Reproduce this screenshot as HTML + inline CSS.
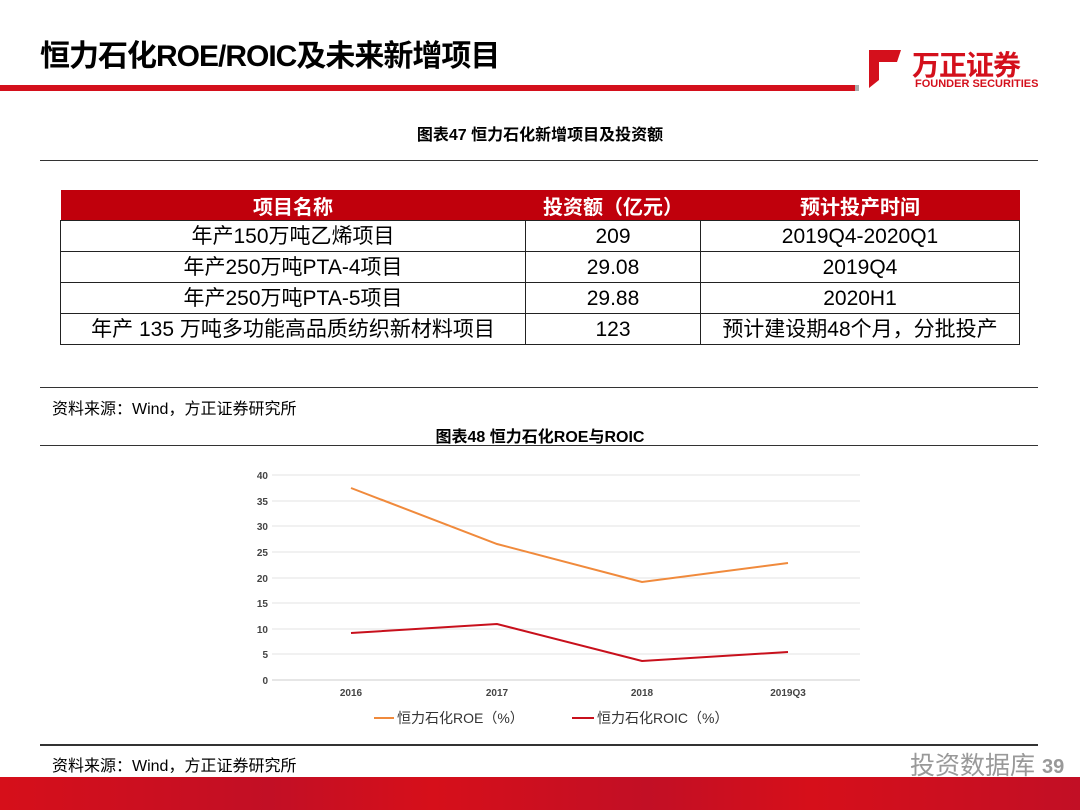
<!DOCTYPE html><html><head><meta charset="utf-8"><style>
body{margin:0;width:1080px;height:810px;position:relative;background:#fff;font-family:"Liberation Sans","Noto Sans CJK SC",sans-serif;overflow:hidden}
.a{position:absolute}
table{position:absolute;left:60px;top:190px;width:960px;border-collapse:collapse;font-size:21px}
td{border:1px solid #222;height:30px;text-align:center;padding:0;line-height:29px}
th{background:#c0000c;color:#fff;height:30px;font-size:20px;font-weight:bold;border:none;padding:0}
</style></head><body>
<div class="a" style="left:40px;top:31px;font-size:30px;font-weight:bold;letter-spacing:-1px">恒力石化ROE/ROIC及未来新增项目</div>
<div class="a" style="left:0;top:85px;width:855px;height:6px;background:#d4101c"></div>
<div class="a" style="left:855px;top:85px;width:4px;height:6px;background:#aaa"></div>
<svg class="a" style="left:865px;top:48px" width="40" height="42"><path d="M4 2H36L32 14H14V32L4 40Z" fill="#d4101c"/></svg>
<div class="a" style="left:912px;top:44px;font-size:28px;font-weight:bold;color:#d4101c;letter-spacing:-1px">万正证券</div>
<div class="a" style="left:915px;top:78px;font-size:11px;font-weight:bold;color:#d4101c">FOUNDER SECURITIES</div>
<div class="a" style="left:0;top:121px;width:1080px;text-align:center;font-size:16px;font-weight:bold">图表47 恒力石化新增项目及投资额</div>
<div class="a" style="left:40px;top:160px;width:998px;height:1px;background:#333"></div>
<table><tr><th style="width:465px">项目名称</th><th style="width:175px">投资额（亿元）</th><th>预计投产时间</th></tr>
<tr><td>年产150万吨乙烯项目</td><td>209</td><td>2019Q4-2020Q1</td></tr>
<tr><td>年产250万吨PTA-4项目</td><td>29.08</td><td>2019Q4</td></tr>
<tr><td>年产250万吨PTA-5项目</td><td>29.88</td><td>2020H1</td></tr>
<tr><td>年产 135 万吨多功能高品质纺织新材料项目</td><td>123</td><td>预计建设期48个月，分批投产</td></tr></table>
<div class="a" style="left:40px;top:387px;width:998px;height:1px;background:#333"></div>
<div class="a" style="left:52px;top:395px;font-size:16px">资料来源：Wind，方正证券研究所</div>
<div class="a" style="left:0;top:423px;width:1080px;text-align:center;font-size:16px;font-weight:bold">图表48 恒力石化ROE与ROIC</div>
<div class="a" style="left:40px;top:445px;width:998px;height:1px;background:#333"></div>
<svg class="a" style="left:0;top:0" width="1080" height="810" font-family="Liberation Sans" font-size="10" font-weight="bold" fill="#444">
<g stroke="#e3e3e3" stroke-width="1">
<line x1="272" x2="860" y1="475" y2="475"/><line x1="272" x2="860" y1="501" y2="501"/><line x1="272" x2="860" y1="526" y2="526"/><line x1="272" x2="860" y1="552" y2="552"/><line x1="272" x2="860" y1="578" y2="578"/><line x1="272" x2="860" y1="603" y2="603"/><line x1="272" x2="860" y1="629" y2="629"/><line x1="272" x2="860" y1="654" y2="654"/><line x1="272" x2="860" y1="680" y2="680" stroke="#ccc"/></g>
<g text-anchor="end"><text x="268" y="479">40</text><text x="268" y="505">35</text><text x="268" y="530">30</text><text x="268" y="556">25</text><text x="268" y="582">20</text><text x="268" y="607">15</text><text x="268" y="633">10</text><text x="268" y="658">5</text><text x="268" y="684">0</text></g>
<g text-anchor="middle"><text x="351" y="696">2016</text><text x="497" y="696">2017</text><text x="642" y="696">2018</text><text x="788" y="696">2019Q3</text></g>
<polyline points="351,488 497,544 642,582 788,563" fill="none" stroke="#f08a3c" stroke-width="2"/>
<polyline points="351,633 497,624 642,661 788,652" fill="none" stroke="#c8101c" stroke-width="2"/>
<line x1="374" x2="394" y1="718" y2="718" stroke="#f08a3c" stroke-width="2"/>
<text x="397" y="723" font-size="14" font-weight="normal" fill="#333" font-family="Liberation Sans,Noto Sans CJK SC">恒力石化ROE（%）</text>
<line x1="572" x2="594" y1="718" y2="718" stroke="#c8101c" stroke-width="2"/>
<text x="597" y="723" font-size="14" font-weight="normal" fill="#333" font-family="Liberation Sans,Noto Sans CJK SC">恒力石化ROIC（%）</text>
</svg>
<div class="a" style="left:40px;top:744px;width:998px;height:2px;background:#333"></div>
<div class="a" style="left:52px;top:752px;font-size:16px">资料来源：Wind，方正证券研究所</div>
<div class="a" style="left:910px;top:746px;font-size:25px;color:#999">投资数据库</div>
<div class="a" style="left:1042px;top:756px;font-size:20px;font-weight:bold;color:#999">39</div>
<div class="a" style="left:0;top:777px;width:1080px;height:33px;background:linear-gradient(90deg,#d60f1a,#c20f25 25%,#d60f1a 40%,#c20f25 60%,#d60f1a 75%,#c20f25)"></div>
</body></html>
